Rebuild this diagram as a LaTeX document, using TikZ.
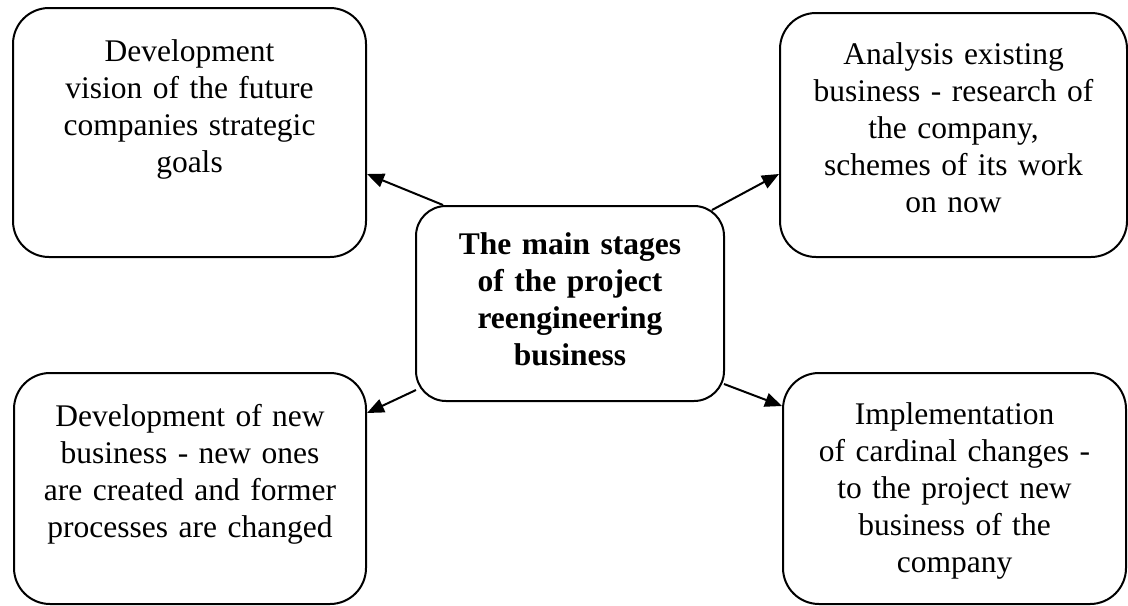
\documentclass[tikz,border=0pt]{standalone}
\usepackage{fontspec}
\setmainfont{Liberation Serif}
\usetikzlibrary{calc, arrows.meta}

\begin{document}
\begin{tikzpicture}[x=0.5pt, y=-0.5pt,
	stage/.style={draw, line width=1pt, rounded corners=18pt, anchor=north west, inner sep=0pt, align=center, font=\fontsize{15.75}{18.5}\selectfont},
	hub/.style={stage, rounded corners=15pt, font=\fontsize{15.75}{18.5}\selectfont\bfseries},
	arr/.style={line width=1pt, -{Triangle[length=8.5pt, width=7pt]}}]
	\useasboundingbox (0,0) rectangle (1128,605);

	\node[stage, text width=176.5pt, text height=26.5pt, text depth=98pt] (vision) at (12,7) {Development\\vision of the future\\companies strategic\\goals};
	\node[stage, text width=173.5pt, text height=25.5pt, text depth=96.5pt] (analysis) at (779,12) {Analysis existing\\business - research of\\the company,\\schemes of its work\\on now};
	\node[hub, text width=154pt, text height=24pt, text depth=73.5pt] (core) at (415,205) {The main stages\\of the project\\reengineering\\business};
	\node[stage, text width=176pt, text height=26.5pt, text depth=89pt] (newbiz) at (13,372) {Development of new\\business - new ones\\are created and former\\processes are changed};
	\node[stage, text width=171.5pt, text height=25.5pt, text depth=90pt] (implement) at (782,372) {Implementation\\of cardinal changes -\\to the project new\\business of the\\company};

	\draw[arr] ($(core.north west)+(28,0)$) -- ($(vision.east)+(0,41.5)$);
	\draw[arr] ($(core.north east)+(-13,5)$) -- ($(analysis.west)+(0,39)$);
	\draw[arr] ($(core.south west)+(1,-12)$) -- ($(newbiz.east)+(0,-75.5)$);
	\draw[arr] ($(core.south east)+(-1,-18)$) -- ($(implement.west)+(0,-82.5)$);
\end{tikzpicture}
\end{document}
